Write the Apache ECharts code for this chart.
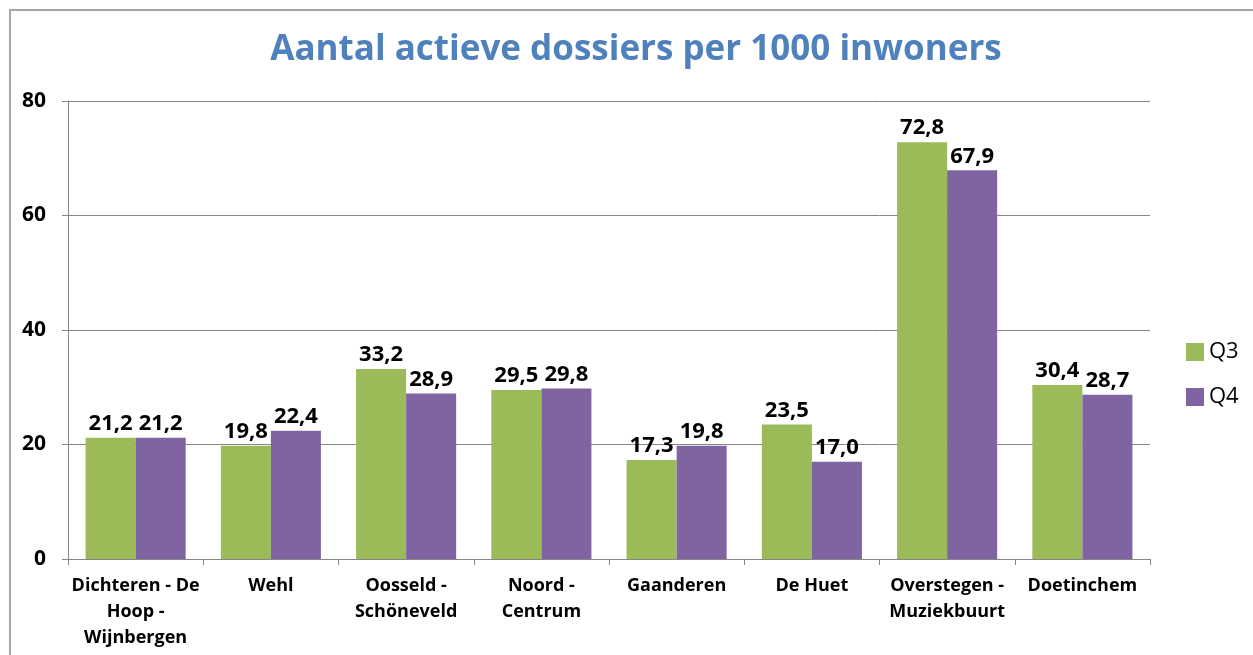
<!DOCTYPE html>
<html lang="nl">
<head>
<meta charset="utf-8">
<title>Aantal actieve dossiers per 1000 inwoners</title>
<script src="https://cdn.jsdelivr.net/npm/echarts@6/dist/echarts.min.js"></script>
<style>
  html, body { margin: 0; padding: 0; background: #fff; }
  #frame { position: absolute; left: 9px; top: 9px; width: 1260px; height: 660px; border: 2px solid #a6a6a6; box-sizing: border-box; }
  #chart { position: absolute; left: 0; top: 0; width: 1253px; height: 655px; }
</style>
</head>
<body>
<div id="frame"></div>
<div id="chart"></div>
<script>
var categories = [
  'Dichteren - De\nHoop -\nWijnbergen',
  'Wehl',
  'Oosseld -\nSchöneveld',
  'Noord -\nCentrum',
  'Gaanderen',
  'De Huet',
  'Overstegen -\nMuziekbuurt',
  'Doetinchem'
];
var q3 = [21.2, 19.8, 33.2, 29.5, 17.3, 23.5, 72.8, 30.4];
var q4 = [21.2, 22.4, 28.9, 29.8, 19.8, 17.0, 67.9, 28.7];
var yTicks = { min: 0, max: 80, interval: 20 };

var chart = echarts.init(document.getElementById('chart'));

var labelStyle = {
  show: true,
  position: 'top',
  distance: 3,
  color: '#000',
  fontFamily: 'Open Sans',
  fontWeight: 'bold',
  fontSize: 22,
  formatter: function (p) { return p.value.toFixed(1).replace('.', ','); }
};

chart.setOption({
  animation: false,
  title: {
    text: 'Aantal actieve dossiers per 1000 inwoners',
    left: 631,
    textAlign: 'center',
    top: 28,
    textStyle: { color: '#4f81bd', fontFamily: 'Open Sans', fontWeight: 'bold', fontSize: 35 }
  },
  legend: {
    orient: 'vertical',
    left: 1181,
    top: 336,
    icon: 'rect',
    itemWidth: 18,
    itemHeight: 18,
    itemGap: 23,
    textStyle: { fontFamily: 'Open Sans', fontSize: 22, color: '#000' },
    data: ['Q3', 'Q4']
  },
  grid: { left: 68, right: 103, top: 101, bottom: 96, containLabel: false },
  xAxis: {
    type: 'category',
    data: categories,
    axisLine: { lineStyle: { color: '#868686', width: 1 } },
    axisTick: { show: true, length: 6, lineStyle: { color: '#868686' } },
    axisLabel: {
      color: '#000',
      fontFamily: 'Open Sans',
      fontWeight: 'bold',
      fontSize: 18,
      lineHeight: 26,
      margin: 14,
      interval: 0
    }
  },
  yAxis: {
    type: 'value',
    min: yTicks.min,
    max: yTicks.max,
    interval: yTicks.interval,
    axisLine: { show: true, lineStyle: { color: '#868686', width: 1 } },
    axisTick: { show: true, length: 6, lineStyle: { color: '#868686' } },
    splitLine: { lineStyle: { color: '#868686', width: 1 } },
    axisLabel: {
      color: '#000',
      fontFamily: 'Open Sans',
      fontWeight: 'bold',
      fontSize: 21,
      margin: 22
    }
  },
  series: [
    {
      name: 'Q3',
      type: 'bar',
      data: q3,
      itemStyle: { color: '#9bbb59' },
      barGap: '0%',
      barCategoryGap: '26%',
      label: labelStyle
    },
    {
      name: 'Q4',
      type: 'bar',
      data: q4,
      itemStyle: { color: '#8064a2' },
      label: labelStyle
    }
  ]
});
</script>
</body>
</html>
